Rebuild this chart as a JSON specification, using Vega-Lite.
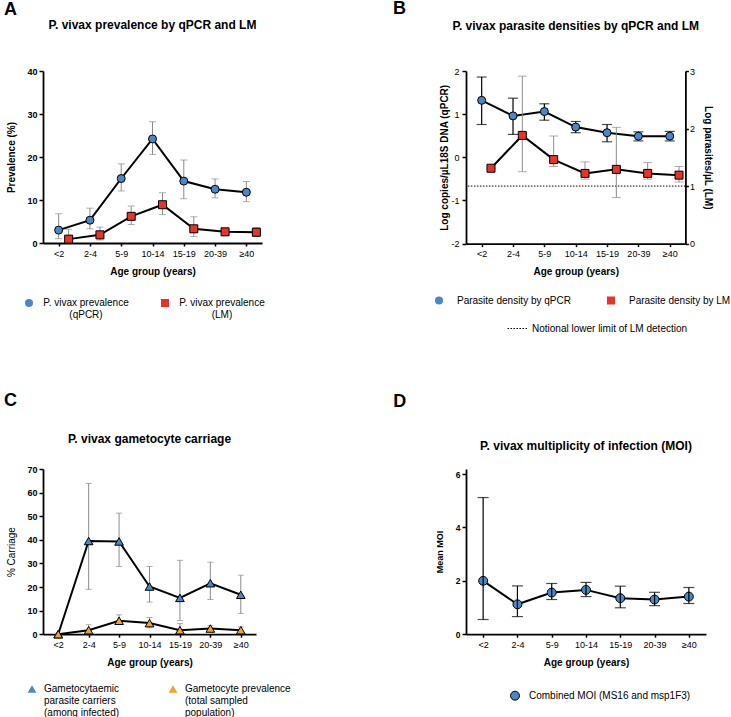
{
  "$schema": "https://vega.github.io/schema/vega-lite/v6.json",
  "padding": {"left": 3, "top": 0, "right": 0, "bottom": 0},
  "config": {
    "font": "Liberation Sans",
    "view": {"stroke": null},
    "axis": {"grid": false, "domainColor": "#000", "domainWidth": 1.8, "tickColor": "#000", "tickWidth": 1.5, "tickSize": 4, "labelColor": "#000", "titleColor": "#000", "labelFontSize": 9, "titleFontSize": 10, "titleFontWeight": "bold", "labelOverlap": false},
    "axisX": {"labelAngle": 0, "tickSize": 3, "labelPadding": 3, "titlePadding": 8, "labelFontWeight": "normal"},
    "axisY": {"labelFontWeight": "bold", "labelPadding": 2, "titlePadding": 10},
    "title": {"fontSize": 12, "fontWeight": "bold", "color": "#000"},
    "legend": {"labelFontSize": 10, "labelColor": "#000", "symbolStrokeColor": "#000", "symbolStrokeWidth": 1, "padding": 0, "labelLimit": 400}
  },
  "datasets": {
    "a": [
      {"age": "<2", "s": "qPCR", "v": 3.0, "lo": 1.0, "hi": 6.8},
      {"age": "2-4", "s": "qPCR", "v": 5.3, "lo": 3.3, "hi": 8.1},
      {"age": "5-9", "s": "qPCR", "v": 15.0, "lo": 12.1, "hi": 18.4},
      {"age": "10-14", "s": "qPCR", "v": 24.2, "lo": 20.6, "hi": 28.2},
      {"age": "15-19", "s": "qPCR", "v": 14.4, "lo": 10.3, "hi": 19.3},
      {"age": "20-39", "s": "qPCR", "v": 12.5, "lo": 10.5, "hi": 14.9},
      {"age": "≥40", "s": "qPCR", "v": 11.8, "lo": 9.6, "hi": 14.3},
      {"age": "<2", "s": "LM", "v": 0.9, "lo": 0.2, "hi": 3.2},
      {"age": "2-4", "s": "LM", "v": 1.9, "lo": 0.7, "hi": 3.7},
      {"age": "5-9", "s": "LM", "v": 6.2, "lo": 4.3, "hi": 8.6},
      {"age": "10-14", "s": "LM", "v": 8.9, "lo": 6.6, "hi": 11.7},
      {"age": "15-19", "s": "LM", "v": 3.3, "lo": 1.5, "hi": 6.1},
      {"age": "20-39", "s": "LM", "v": 2.6, "lo": 1.9, "hi": 3.4},
      {"age": "≥40", "s": "LM", "v": 2.5, "lo": 1.5, "hi": 3.6}
    ],
    "b": [
      {"age": "<2", "s": "qPCR", "v": 1.32, "lo": 0.76, "hi": 1.86},
      {"age": "2-4", "s": "qPCR", "v": 0.96, "lo": 0.53, "hi": 1.37},
      {"age": "5-9", "s": "qPCR", "v": 1.06, "lo": 0.86, "hi": 1.24},
      {"age": "10-14", "s": "qPCR", "v": 0.70, "lo": 0.57, "hi": 0.83},
      {"age": "15-19", "s": "qPCR", "v": 0.57, "lo": 0.36, "hi": 0.76},
      {"age": "20-39", "s": "qPCR", "v": 0.49, "lo": 0.38, "hi": 0.59},
      {"age": "≥40", "s": "qPCR", "v": 0.49, "lo": 0.38, "hi": 0.60},
      {"age": "<2", "s": "LM", "v": 1.31, "lo": 1.31, "hi": 1.31},
      {"age": "2-4", "s": "LM", "v": 1.88, "lo": 1.25, "hi": 2.91},
      {"age": "5-9", "s": "LM", "v": 1.46, "lo": 1.34, "hi": 1.87},
      {"age": "10-14", "s": "LM", "v": 1.22, "lo": 1.12, "hi": 1.42},
      {"age": "15-19", "s": "LM", "v": 1.29, "lo": 0.80, "hi": 2.02},
      {"age": "20-39", "s": "LM", "v": 1.22, "lo": 1.12, "hi": 1.41},
      {"age": "≥40", "s": "LM", "v": 1.19, "lo": 1.07, "hi": 1.34}
    ],
    "c": [
      {"age": "<2", "s": "inf", "v": 0, "lo": 0, "hi": 0},
      {"age": "2-4", "s": "inf", "v": 39.5, "lo": 19.0, "hi": 63.9},
      {"age": "5-9", "s": "inf", "v": 39.3, "lo": 28.7, "hi": 51.3},
      {"age": "10-14", "s": "inf", "v": 20.2, "lo": 13.6, "hi": 28.7},
      {"age": "15-19", "s": "inf", "v": 15.4, "lo": 5.8, "hi": 31.3},
      {"age": "20-39", "s": "inf", "v": 21.6, "lo": 14.7, "hi": 30.5},
      {"age": "≥40", "s": "inf", "v": 16.7, "lo": 8.8, "hi": 25.0},
      {"age": "<2", "s": "pop", "v": 0, "lo": 0, "hi": 0},
      {"age": "2-4", "s": "pop", "v": 1.7, "lo": 1.0, "hi": 4.0},
      {"age": "5-9", "s": "pop", "v": 5.7, "lo": 4.1, "hi": 8.2},
      {"age": "10-14", "s": "pop", "v": 4.7, "lo": 2.7, "hi": 7.1},
      {"age": "15-19", "s": "pop", "v": 1.7, "lo": 0.5, "hi": 4.5},
      {"age": "20-39", "s": "pop", "v": 2.4, "lo": 1.2, "hi": 3.7},
      {"age": "≥40", "s": "pop", "v": 1.7, "lo": 0.6, "hi": 3.1}
    ],
    "d": [
      {"age": "<2", "v": 2.0, "lo": 0.55, "hi": 5.12},
      {"age": "2-4", "v": 1.12, "lo": 0.66, "hi": 1.81},
      {"age": "5-9", "v": 1.56, "lo": 1.30, "hi": 1.90},
      {"age": "10-14", "v": 1.66, "lo": 1.41, "hi": 1.94},
      {"age": "15-19", "v": 1.35, "lo": 0.99, "hi": 1.80},
      {"age": "20-39", "v": 1.30, "lo": 1.07, "hi": 1.57},
      {"age": "≥40", "v": 1.41, "lo": 1.15, "hi": 1.75}
    ]
  },
  "spacing": 57,
  "resolve": {"scale": {"fill": "independent", "shape": "independent", "strokeDash": "independent"}, "legend": {"fill": "independent", "shape": "independent", "strokeDash": "independent"}},
  "vconcat": [
    {
      "spacing": 128,
      "resolve": {"scale": {"fill": "independent", "shape": "independent", "strokeDash": "independent"}, "legend": {"fill": "independent", "shape": "independent", "strokeDash": "independent"}},
      "hconcat": [
        {
          "title": {"text": "A", "anchor": "start", "fontSize": 18, "fontWeight": "bold", "offset": 0, "dx": -3},
          "vconcat": [
            {
              "width": 219, "height": 172,
              "title": {"text": "P. vivax prevalence by qPCR and LM", "offset": 34.6},
              "data": {"name": "a"},
              "encoding": {"x": {"field": "age", "type": "ordinal", "scale": {"type": "point", "padding": 0.5, "domain": ["<2", "2-4", "5-9", "10-14", "15-19", "20-39", "≥40"]}, "axis": {"title": "Age group (years)"}}},
              "layer": [
                {"transform": [{"filter": "datum.s==='qPCR'"}], "mark": {"type": "rule", "color": "#8c8c8c", "strokeWidth": 1},
                 "encoding": {"y": {"field": "lo", "type": "quantitative", "scale": {"domain": [0, 40], "nice": false}, "axis": {"values": [0, 10, 20, 30, 40], "title": "Prevalence (%)"}}, "y2": {"field": "hi"}}},
                {"transform": [{"filter": "datum.s==='qPCR'"}, {"fold": ["lo", "hi"], "as": ["k", "e"]}], "mark": {"type": "tick", "color": "#8c8c8c", "size": 7, "thickness": 1},
                 "encoding": {"y": {"field": "e", "type": "quantitative", "scale": {"domain": [0, 40], "nice": false}, "axis": {"values": [0, 10, 20, 30, 40], "title": "Prevalence (%)"}}}},
                {"transform": [{"filter": "datum.s==='LM'"}], "mark": {"type": "rule", "color": "#8c8c8c", "strokeWidth": 1, "xOffset": 10},
                 "encoding": {"y": {"field": "lo", "type": "quantitative", "scale": {"domain": [0, 40], "nice": false}, "axis": {"values": [0, 10, 20, 30, 40], "title": "Prevalence (%)"}}, "y2": {"field": "hi"}}},
                {"transform": [{"filter": "datum.s==='LM'"}, {"fold": ["lo", "hi"], "as": ["k", "e"]}], "mark": {"type": "tick", "color": "#8c8c8c", "size": 7, "thickness": 1, "xOffset": 10},
                 "encoding": {"y": {"field": "e", "type": "quantitative", "scale": {"domain": [0, 40], "nice": false}, "axis": {"values": [0, 10, 20, 30, 40], "title": "Prevalence (%)"}}}},
                {"transform": [{"filter": "datum.s==='qPCR'"}], "mark": {"type": "line", "color": "#000", "strokeWidth": 2},
                 "encoding": {"y": {"field": "v", "type": "quantitative", "scale": {"domain": [0, 40], "nice": false}, "axis": {"values": [0, 10, 20, 30, 40], "title": "Prevalence (%)"}}}},
                {"transform": [{"filter": "datum.s==='LM'"}], "mark": {"type": "line", "color": "#000", "strokeWidth": 2, "xOffset": 10},
                 "encoding": {"y": {"field": "v", "type": "quantitative", "scale": {"domain": [0, 40], "nice": false}, "axis": {"values": [0, 10, 20, 30, 40], "title": "Prevalence (%)"}}}},
                {"transform": [{"filter": "datum.s==='qPCR'"}], "mark": {"type": "point", "filled": true, "size": 64, "stroke": "#000", "strokeWidth": 1, "opacity": 1},
                 "encoding": {
                   "y": {"field": "v", "type": "quantitative", "scale": {"domain": [0, 40], "nice": false}, "axis": {"values": [0, 10, 20, 30, 40], "title": "Prevalence (%)"}},
                   "fill": {"field": "s", "type": "nominal", "scale": {"domain": ["qPCR", "LM"], "range": ["#4b87c6", "#e3352b"]},
                            "legend": {"title": null, "orient": "none", "legendX": -19, "legendY": 227, "direction": "horizontal", "columns": 2, "columnPadding": 30, "labelAlign": "center", "labelOffset": 52, "symbolSize": 64,
                                       "labelExpr": "datum.label==='qPCR' ? ['P. vivax prevalence','(qPCR)'] : ['P. vivax prevalence','(LM)']"}},
                   "shape": {"field": "s", "type": "nominal", "scale": {"domain": ["qPCR", "LM"], "range": ["circle", "square"]}}}},
                {"transform": [{"filter": "datum.s==='LM'"}], "mark": {"type": "point", "filled": true, "size": 64, "stroke": "#000", "strokeWidth": 1, "opacity": 1, "xOffset": 10},
                 "encoding": {
                   "y": {"field": "v", "type": "quantitative", "scale": {"domain": [0, 40], "nice": false}, "axis": {"values": [0, 10, 20, 30, 40], "title": "Prevalence (%)"}},
                   "fill": {"field": "s", "type": "nominal", "scale": {"domain": ["qPCR", "LM"], "range": ["#4b87c6", "#e3352b"]}},
                   "shape": {"field": "s", "type": "nominal", "scale": {"domain": ["qPCR", "LM"], "range": ["circle", "square"]}}}}
              ]
            }
          ]
        },
        {
          "title": {"text": "B", "anchor": "start", "fontSize": 18, "fontWeight": "bold", "offset": 2, "dx": -41},
          "vconcat": [
            {
              "width": 219.4, "height": 172.6,
              "title": {"text": "P. vivax parasite densities by qPCR and LM", "offset": 33.7},
              "data": {"name": "b"},
              "layer": [
                {
                  "transform": [{"filter": "datum.s==='qPCR'"}],
                  "encoding": {"x": {"field": "age", "type": "ordinal", "scale": {"type": "point", "padding": 0.5, "domain": ["<2", "2-4", "5-9", "10-14", "15-19", "20-39", "≥40"]}, "axis": {"title": "Age group (years)"}}},
                  "layer": [
                    {"mark": {"type": "rule", "color": "#000", "strokeWidth": 1.2},
                     "encoding": {"y": {"field": "lo", "type": "quantitative", "scale": {"domain": [-2, 2], "nice": false}, "axis": {"orient": "left", "values": [-2, -1, 0, 1, 2], "title": "Log copies/µL18S DNA (qPCR)", "labelFontWeight": "normal", "labelExpr": "'' + datum.value", "titlePadding": 1, "labelPadding": 3}}, "y2": {"field": "hi"}}},
                    {"transform": [{"fold": ["lo", "hi"], "as": ["k", "e"]}], "mark": {"type": "tick", "color": "#000", "size": 10, "thickness": 1.2},
                     "encoding": {"y": {"field": "e", "type": "quantitative", "scale": {"domain": [-2, 2], "nice": false}, "axis": {"orient": "left", "values": [-2, -1, 0, 1, 2], "title": "Log copies/µL18S DNA (qPCR)", "labelFontWeight": "normal", "labelExpr": "'' + datum.value", "titlePadding": 1, "labelPadding": 3}}}},
                    {"mark": {"type": "line", "color": "#000", "strokeWidth": 2},
                     "encoding": {"y": {"field": "v", "type": "quantitative", "scale": {"domain": [-2, 2], "nice": false}, "axis": {"orient": "left", "values": [-2, -1, 0, 1, 2], "title": "Log copies/µL18S DNA (qPCR)", "labelFontWeight": "normal", "labelExpr": "'' + datum.value", "titlePadding": 1, "labelPadding": 3}}}},
                    {"mark": {"type": "point", "filled": true, "size": 64, "stroke": "#000", "strokeWidth": 1, "opacity": 1},
                     "encoding": {
                       "y": {"field": "v", "type": "quantitative", "scale": {"domain": [-2, 2], "nice": false}, "axis": {"orient": "left", "values": [-2, -1, 0, 1, 2], "title": "Log copies/µL18S DNA (qPCR)", "labelFontWeight": "normal", "labelExpr": "'' + datum.value", "titlePadding": 1, "labelPadding": 3}},
                       "fill": {"field": "s", "type": "nominal", "scale": {"domain": ["qPCR", "LM"], "range": ["#4b87c6", "#e3352b"]},
                                "legend": {"title": null, "orient": "none", "legendX": -32, "legendY": 224.5, "direction": "horizontal", "columns": 2, "columnPadding": 34, "labelOffset": 13, "symbolSize": 64,
                                           "labelExpr": "datum.label==='qPCR' ? 'Parasite density by qPCR' : 'Parasite density by LM'"}},
                       "shape": {"field": "s", "type": "nominal", "scale": {"domain": ["qPCR", "LM"], "range": ["circle", "square"]}}}}
                  ]
                },
                {
                  "layer": [
                    {"data": {"values": [{"t": "Notional lower limit of LM detection"}]},
                     "mark": {"type": "rule", "color": "#000", "strokeWidth": 1},
                     "encoding": {
                       "y": {"datum": 1, "type": "quantitative", "scale": {"domain": [0, 3], "nice": false}, "axis": {"orient": "right", "values": [0, 1, 2, 3], "title": "Log parasites/µL (LM)", "labelFontWeight": "normal", "labelExpr": "'' + datum.value", "tickSize": 3, "labelPadding": 1, "titlePadding": 8}},
                       "strokeDash": {"field": "t", "type": "nominal", "scale": {"range": [[1.5, 1.5]]},
                                      "legend": {"title": null, "orient": "none", "legendX": 41, "legendY": 247, "symbolType": "stroke", "symbolSize": 400, "symbolStrokeWidth": 1, "labelOffset": 4}}}},
                    {
                      "transform": [{"filter": "datum.s==='LM'"}],
                      "encoding": {"x": {"field": "age", "type": "ordinal", "scale": {"type": "point", "padding": 0.5, "domain": ["<2", "2-4", "5-9", "10-14", "15-19", "20-39", "≥40"]}, "axis": {"title": "Age group (years)"}}},
                      "layer": [
                        {"mark": {"type": "rule", "color": "#8c8c8c", "strokeWidth": 1, "xOffset": 9.3},
                         "encoding": {"y": {"field": "lo", "type": "quantitative", "scale": {"domain": [0, 3], "nice": false}, "axis": {"orient": "right", "values": [0, 1, 2, 3], "title": "Log parasites/µL (LM)", "labelFontWeight": "normal", "labelExpr": "'' + datum.value", "tickSize": 3, "labelPadding": 1, "titlePadding": 8}}, "y2": {"field": "hi"}}},
                        {"transform": [{"fold": ["lo", "hi"], "as": ["k", "e"]}], "mark": {"type": "tick", "color": "#8c8c8c", "size": 9, "thickness": 1, "xOffset": 9.3},
                         "encoding": {"y": {"field": "e", "type": "quantitative", "scale": {"domain": [0, 3], "nice": false}, "axis": {"orient": "right", "values": [0, 1, 2, 3], "title": "Log parasites/µL (LM)", "labelFontWeight": "normal", "labelExpr": "'' + datum.value", "tickSize": 3, "labelPadding": 1, "titlePadding": 8}}}},
                        {"mark": {"type": "line", "color": "#000", "strokeWidth": 2, "xOffset": 9.3},
                         "encoding": {"y": {"field": "v", "type": "quantitative", "scale": {"domain": [0, 3], "nice": false}, "axis": {"orient": "right", "values": [0, 1, 2, 3], "title": "Log parasites/µL (LM)", "labelFontWeight": "normal", "labelExpr": "'' + datum.value", "tickSize": 3, "labelPadding": 1, "titlePadding": 8}}}},
                        {"mark": {"type": "point", "filled": true, "size": 64, "stroke": "#000", "strokeWidth": 1, "opacity": 1, "xOffset": 9.3},
                         "encoding": {
                           "y": {"field": "v", "type": "quantitative", "scale": {"domain": [0, 3], "nice": false}, "axis": {"orient": "right", "values": [0, 1, 2, 3], "title": "Log parasites/µL (LM)", "labelFontWeight": "normal", "labelExpr": "'' + datum.value", "tickSize": 3, "labelPadding": 1, "titlePadding": 8}},
                           "fill": {"field": "s", "type": "nominal", "scale": {"domain": ["qPCR", "LM"], "range": ["#4b87c6", "#e3352b"]}},
                           "shape": {"field": "s", "type": "nominal", "scale": {"domain": ["qPCR", "LM"], "range": ["circle", "square"]}}}}
                      ]
                    }
                  ]
                }
              ],
              "resolve": {"scale": {"y": "independent"}}
            }
          ]
        }
      ]
    },
    {
      "spacing": 102,
      "resolve": {"scale": {"fill": "independent", "shape": "independent", "strokeDash": "independent"}, "legend": {"fill": "independent", "shape": "independent", "strokeDash": "independent"}},
      "hconcat": [
        {
          "title": {"text": "C", "anchor": "start", "fontSize": 18, "fontWeight": "bold", "offset": 23.5, "dx": -3},
          "vconcat": [
            {
              "width": 213, "height": 165.2,
              "title": {"text": "P. vivax gametocyte carriage", "offset": 19},
              "data": {"name": "c"},
              "encoding": {"x": {"field": "age", "type": "ordinal", "scale": {"type": "point", "padding": 0.5, "domain": ["<2", "2-4", "5-9", "10-14", "15-19", "20-39", "≥40"]}, "axis": {"title": "Age group (years)"}}},
              "layer": [
                {"mark": {"type": "rule", "color": "#8c8c8c", "strokeWidth": 1},
                 "encoding": {"y": {"field": "lo", "type": "quantitative", "scale": {"domain": [0, 70], "nice": false}, "axis": {"values": [0, 10, 20, 30, 40, 50, 60, 70], "title": "% Carriage", "titleFontWeight": "normal"}}, "y2": {"field": "hi"}}},
                {"transform": [{"fold": ["lo", "hi"], "as": ["k", "e"]}], "mark": {"type": "tick", "color": "#8c8c8c", "size": 6, "thickness": 1},
                 "encoding": {"y": {"field": "e", "type": "quantitative", "scale": {"domain": [0, 70], "nice": false}, "axis": {"values": [0, 10, 20, 30, 40, 50, 60, 70], "title": "% Carriage", "titleFontWeight": "normal"}}}},
                {"mark": {"type": "line", "color": "#000", "strokeWidth": 2},
                 "encoding": {"y": {"field": "v", "type": "quantitative", "scale": {"domain": [0, 70], "nice": false}, "axis": {"values": [0, 10, 20, 30, 40, 50, 60, 70], "title": "% Carriage", "titleFontWeight": "normal"}}, "detail": {"field": "s"}}},
                {"mark": {"type": "point", "filled": true, "size": 75, "stroke": "#000", "strokeWidth": 1, "opacity": 1},
                 "encoding": {
                   "y": {"field": "v", "type": "quantitative", "scale": {"domain": [0, 70], "nice": false}, "axis": {"values": [0, 10, 20, 30, 40, 50, 60, 70], "title": "% Carriage", "titleFontWeight": "normal"}},
                   "fill": {"field": "s", "type": "nominal", "scale": {"domain": ["inf", "pop"], "range": ["#4b87c6", "#f0a22e"]},
                            "legend": {"title": null, "orient": "none", "legendX": -16, "legendY": 215, "direction": "horizontal", "columns": 2, "columnPadding": 46, "labelOffset": 7, "symbolSize": 75,
                                       "labelExpr": "datum.label==='inf' ? ['Gametocytaemic','parasite carriers','(among infected)'] : ['Gametocyte prevalence','(total sampled','population)']"}},
                   "shape": {"field": "s", "type": "nominal", "scale": {"domain": ["inf", "pop"], "range": ["triangle-up", "triangle-up"]}}}}
              ]
            }
          ]
        },
        {
          "title": {"text": "D", "anchor": "start", "fontSize": 18, "fontWeight": "bold", "offset": 29, "dx": -42},
          "vconcat": [
            {
              "width": 240, "height": 165.2,
              "title": {"text": "P. vivax multiplicity of infection (MOI)", "offset": 16.5},
              "data": {"name": "d"},
              "encoding": {"x": {"field": "age", "type": "ordinal", "scale": {"type": "point", "padding": 0.5, "domain": ["<2", "2-4", "5-9", "10-14", "15-19", "20-39", "≥40"]}, "axis": {"title": "Age group (years)"}}},
              "layer": [
                {"mark": {"type": "line", "color": "#000", "strokeWidth": 2},
                 "encoding": {"y": {"field": "v", "type": "quantitative", "scale": {"domain": [0, 6.19], "nice": false}, "axis": {"values": [0, 2, 4, 6], "title": "Mean MOI", "titleFontSize": 9, "labelFontSize": 8.5, "titlePadding": 11}}}},
                {"mark": {"type": "point", "filled": true, "size": 80, "stroke": "#000", "strokeWidth": 1, "opacity": 1},
                 "encoding": {
                   "y": {"field": "v", "type": "quantitative", "scale": {"domain": [0, 6.19], "nice": false}, "axis": {"values": [0, 2, 4, 6], "title": "Mean MOI", "titleFontSize": 9, "labelFontSize": 8.5, "titlePadding": 11}},
                   "fill": {"datum": "Combined MOI (MS16 and msp1F3)", "type": "nominal", "scale": {"range": ["#4b87c6"]},
                            "legend": {"title": null, "orient": "none", "legendX": 44, "legendY": 221.7, "labelOffset": 9, "symbolSize": 80}}}},
                {"mark": {"type": "rule", "color": "#000", "strokeWidth": 1.2},
                 "encoding": {"y": {"field": "lo", "type": "quantitative", "scale": {"domain": [0, 6.19], "nice": false}, "axis": {"values": [0, 2, 4, 6], "title": "Mean MOI", "titleFontSize": 9, "labelFontSize": 8.5, "titlePadding": 11}}, "y2": {"field": "hi"}}},
                {"transform": [{"fold": ["lo", "hi"], "as": ["k", "e"]}], "mark": {"type": "tick", "color": "#000", "size": 11, "thickness": 1.2},
                 "encoding": {"y": {"field": "e", "type": "quantitative", "scale": {"domain": [0, 6.19], "nice": false}, "axis": {"values": [0, 2, 4, 6], "title": "Mean MOI", "titleFontSize": 9, "labelFontSize": 8.5, "titlePadding": 11}}}}
              ]
            }
          ]
        }
      ]
    }
  ]
}
